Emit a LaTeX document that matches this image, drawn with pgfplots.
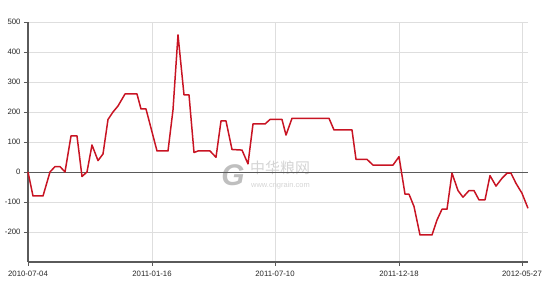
\documentclass[border=0pt]{standalone}
\usepackage{pgfplots}
\pgfplotsset{compat=1.18}
\usepackage{fontspec}
\setmainfont{Liberation Sans}
\newfontfamily\cjk{Noto Sans CJK SC}
\definecolor{linered}{RGB}{200,20,35}
\definecolor{gridc}{RGB}{222,222,222}
\definecolor{axc}{RGB}{90,90,90}
\definecolor{wm}{RGB}{212,212,212}
\begin{document}
\begin{tikzpicture}
\begin{axis}[
  scale only axis,
  width=500bp, height=240bp,
  xmin=28, xmax=528,
  ymin=-300, ymax=500,
  axis x line=bottom, axis y line=left,
  axis line style={-, axc, line width=1.3pt},
  xtick={28,152,275,399,522},
  xticklabels={2010-07-04,2011-01-16,2011-07-10,2011-12-18,2012-05-27},
  ytick={-200,-100,0,100,200,300,400,500},
  tick align=outside,
  major tick length=4bp,
  tick style={axc, line width=0.8pt},
  grid=major,
  major grid style={gridc, line width=0.8pt},
  /pgf/number format/assume math mode=true,
  ticklabel style={font=\fontsize{7.8}{9}\selectfont, text=black!85},
  xticklabel style={yshift=-2bp},
  clip=false,
]
% invisible bounding area matching 550x300
\path (axis cs:0,-426.7) rectangle (axis cs:550,573.3);
% watermark
\node[text=wm!90!black, inner sep=0pt, font=\bfseries\itshape\fontsize{30}{30}\selectfont, anchor=center] at (axis cs:233,-12) {G};
\node[text=wm, inner sep=0pt, font=\cjk\fontsize{15}{15}\selectfont, anchor=base west] at (axis cs:250,-5) {中华粮网};
\node[text=wm, inner sep=0pt, font=\fontsize{7.5}{7.5}\selectfont, anchor=base west] at (axis cs:251,-52) {www.cngrain.com};
% zero line
\draw[axc, line width=0.9pt] (axis cs:28,0) -- (axis cs:528,0);
\addplot[linered, line width=1.5pt, line join=round] coordinates {
(28,0) (33,-80) (43,-80) (50,0) (55,18) (60,18) (65,0) (71,120) (77,120)
(82,-15) (87,0) (92,90) (98,38) (103,60) (108,175) (113,200) (118,220)
(125,260) (137,260) (141,210) (146,210) (157,70) (168,70) (173,207)
(178,457) (184,257) (189,257) (194,65) (198,70) (210,70) (216,49)
(221,170) (226,170) (232,75) (242,73) (248,27) (253,160) (265,160)
(270,175) (282,175) (286,123) (292,179) (329,179) (334,140) (352,140)
(356,42) (367,42) (373,23) (393,23) (399,51) (405,-74) (409,-74)
(414,-115) (420,-210) (432,-210) (437,-160) (442,-124) (447,-124)
(452,-4) (458,-62) (463,-84) (469,-62) (474,-62) (479,-93) (485,-93)
(490,-12) (496,-47) (502,-21) (507,-4) (511,-4) (516,-38) (522,-71)
(528,-121)
};
\end{axis}
\end{tikzpicture}
\end{document}
